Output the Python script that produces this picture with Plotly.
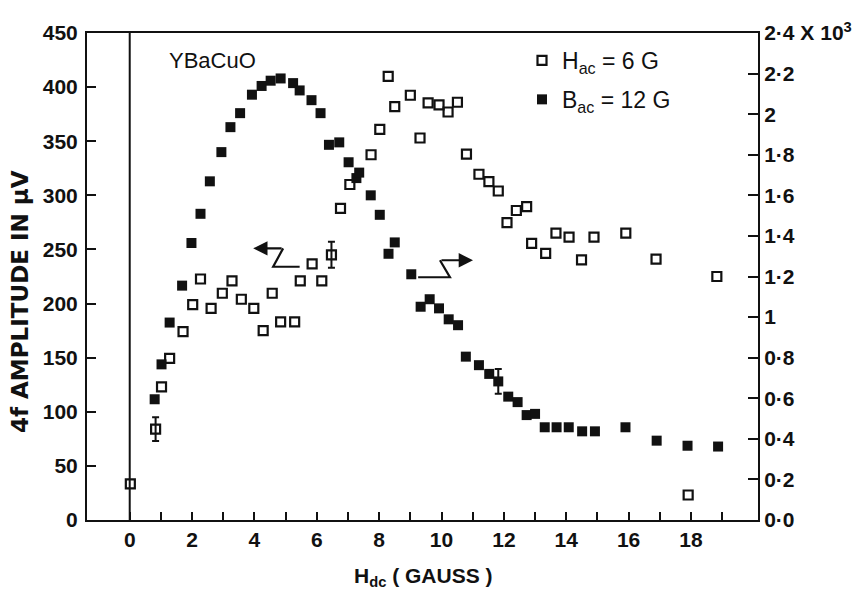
import plotly.graph_objects as go

# ---- data ----
# Open squares: H_ac = 6 G, left axis (µV)
open_h = [0.02, 1.02, 1.28, 1.71, 2.02, 2.27, 2.61, 2.97, 3.28, 3.58, 3.98, 4.28, 4.57,
          4.84, 5.29, 5.47, 5.85, 6.16, 6.76, 7.06, 7.74, 8.02, 8.29, 8.50, 9.00, 9.31,
          9.57, 9.92, 10.21, 10.51, 10.80, 11.20, 11.52, 11.82, 12.10, 12.40, 12.73,
          12.89, 13.34, 13.67, 14.09, 14.49, 14.89, 15.91, 16.88, 17.91, 18.83]
open_v = [33.3, 123, 149.4, 174, 199, 222.7, 195.6, 209.5, 221, 204, 195.6, 175, 209.5,
          183, 183, 221, 236.6, 221, 288, 310, 337.5, 361, 410, 382, 392.5, 353,
          385.5, 383.5, 377, 386, 338, 319.5, 312.7, 304, 274.8, 286, 289.6,
          255.7, 246.4, 265, 261.3, 240.3, 261.3, 265, 241, 23.1, 225]
open_err_h = [0.83, 6.47]
open_err_v = [84, 245]
open_err = [11, 12]

# Filled squares: B_ac = 12 G, right axis (x 10^3)
filled_h = [0.80, 1.02, 1.28, 1.68, 1.98, 2.27, 2.57, 2.94, 3.23, 3.54, 3.92, 4.23, 4.52,
            4.84, 5.24, 5.45, 5.83, 6.12, 6.39, 6.72, 7.02, 7.27, 7.36, 7.73, 8.02,
            8.30, 8.50, 9.03, 9.33, 9.62, 9.92, 10.23, 10.53, 10.78, 11.20, 11.53,
            12.14, 12.44, 12.73, 13.00, 13.31, 13.69, 14.08, 14.51, 14.92, 15.90,
            16.90, 17.89, 18.87]
filled_v = [0.595, 0.767, 0.973, 1.155, 1.365, 1.509, 1.669, 1.813, 1.936, 2.005, 2.096,
            2.139, 2.165, 2.176, 2.153, 2.117, 2.069, 2.005, 1.849, 1.861, 1.763, 1.685,
            1.712, 1.600, 1.504, 1.312, 1.368, 1.211, 1.051, 1.088, 1.043, 0.989,
            0.960, 0.805, 0.763, 0.720, 0.608, 0.581, 0.517, 0.523, 0.457, 0.457,
            0.457, 0.437, 0.437, 0.457, 0.391, 0.366, 0.362]
filled_err_h = [11.82]
filled_err_v = [0.683]
filled_err = [0.061]

x_tickvals = list(range(0, 20))
x_ticktext = [str(v) if v % 2 == 0 else " " for v in x_tickvals]
yl_tickvals = [0, 50, 100, 150, 200, 250, 300, 350, 400, 450]
yr_tickvals = [0, 0.2, 0.4, 0.6, 0.8, 1.0, 1.2, 1.4, 1.6, 1.8, 2.0, 2.2, 2.4]
yr_ticktext = ["0·0", "0·2", "0·4", "0·6", "0·8", "1", "1·2", "1·4", "1·6", "1·8",
               "2", "2·2", "2·4 X 10<sup>3</sup>"]

FONT = "Liberation Sans, Arial, sans-serif"
WIDE = "DejaVu Sans, sans-serif"
BLACK = "#111111"

L, R, T, B = 87, 95, 33, 76
PW = 853 - L - R
PH = 596 - T - B


def px(xp):
    return (xp - L) / PW


def py(yp):
    return 1 - (yp - T) / PH


fig = go.Figure()

open_marker = dict(symbol="square-open", size=9, color=BLACK, line=dict(width=2.2, color=BLACK))
filled_marker = dict(symbol="square", size=10, color=BLACK, line=dict(width=0))

fig.add_trace(go.Scatter(x=open_h, y=open_v, mode="markers", marker=open_marker,
                         name="H<sub>ac</sub> = 6 G", legendgroup="a"))
fig.add_trace(go.Scatter(x=open_err_h, y=open_err_v, mode="markers", marker=open_marker,
                         error_y=dict(type="data", array=open_err, color=BLACK,
                                      thickness=2, width=3.5),
                         showlegend=False, legendgroup="a"))
fig.add_trace(go.Scatter(x=filled_h, y=filled_v, mode="markers", marker=filled_marker,
                         name="B<sub>ac</sub> = 12 G", legendgroup="b", yaxis="y2"))
fig.add_trace(go.Scatter(x=filled_err_h, y=filled_err_v, mode="markers", marker=filled_marker,
                         error_y=dict(type="data", array=filled_err, color=BLACK,
                                      thickness=2, width=3.5),
                         showlegend=False, legendgroup="b", yaxis="y2"))

tickfont = dict(family=FONT, size=21, color=BLACK, weight="bold")

fig.update_layout(
    width=853, height=596,
    margin=dict(l=L, r=R, t=T, b=B, autoexpand=False),
    paper_bgcolor="white", plot_bgcolor="white",
    showlegend=True,
    legend=dict(x=px(522), y=py(39), xanchor="left", yanchor="top",
                font=dict(family=FONT, size=23, color=BLACK),
                traceorder="grouped", tracegroupgap=6, bgcolor="rgba(0,0,0,0)"),
    xaxis=dict(range=[-1.37, 20.15], tickmode="array", tickvals=x_tickvals,
               ticktext=x_ticktext, ticks="inside", ticklen=8, tickwidth=2,
               tickcolor=BLACK, showline=True, linewidth=2, linecolor=BLACK,
               mirror=True, showgrid=False, zeroline=False, tickfont=tickfont,
               automargin=False),
    yaxis=dict(range=[0, 450], tickmode="array", tickvals=yl_tickvals,
               ticks="inside", ticklen=9, tickwidth=2, tickcolor=BLACK,
               showline=True, linewidth=2, linecolor=BLACK, showgrid=False,
               zeroline=False, tickfont=tickfont, automargin=False,
               ticklabelstandoff=3),
    yaxis2=dict(range=[0, 2.4], overlaying="y", side="right", tickmode="array",
                tickvals=yr_tickvals, ticktext=yr_ticktext, ticks="inside",
                ticklen=10, tickwidth=2, tickcolor=BLACK, showline=True,
                linewidth=2, linecolor=BLACK, showgrid=False, zeroline=False,
                tickfont=tickfont, automargin=False),
)

# vertical line at H = 0
fig.add_shape(type="line", xref="x", yref="paper", x0=0, x1=0, y0=0, y1=1,
              line=dict(color=BLACK, width=2))

# Z-shaped pointer arrows
fig.add_shape(type="path", xref="x", yref="y", path="M 4.92,251 L 4.6,234 L 5.45,234",
              line=dict(color=BLACK, width=2.2))
fig.add_annotation(x=3.96, y=251, ax=4.92, ay=251, xref="x", yref="y", axref="x", ayref="y",
                   text="", showarrow=True, arrowhead=2, arrowsize=1.3, arrowwidth=2.2,
                   arrowcolor=BLACK)
fig.add_shape(type="path", xref="x", yref="y", path="M 9.25,224.3 L 10.27,224.3 L 9.95,240",
              line=dict(color=BLACK, width=2.2))
fig.add_annotation(x=11.01, y=240, ax=9.95, ay=240, xref="x", yref="y", axref="x", ayref="y",
                   text="", showarrow=True, arrowhead=2, arrowsize=1.3, arrowwidth=2.2,
                   arrowcolor=BLACK)

# texts
fig.add_annotation(x=px(167), y=py(61), xref="paper", yref="paper", text="YBaCuO",
                   showarrow=False, xanchor="left", yanchor="middle",
                   font=dict(family=FONT, size=22, color=BLACK))
fig.add_annotation(x=0.5, y=py(577), xref="paper", yref="paper",
                   text="H<sub>dc</sub> ( GAUSS )", showarrow=False, xanchor="center",
                   yanchor="middle", font=dict(family=FONT, size=21, color=BLACK, weight="bold"))
fig.add_annotation(x=px(20), y=py(302), xref="paper", yref="paper",
                   text="4f AMPLITUDE IN µV", textangle=-90, showarrow=False,
                   xanchor="center", yanchor="middle",
                   font=dict(family=WIDE, size=23, color=BLACK, weight="bold"))

fig.write_html("out.html", post_script="document.body.style.margin='0px';",
               config={"displayModeBar": False})
